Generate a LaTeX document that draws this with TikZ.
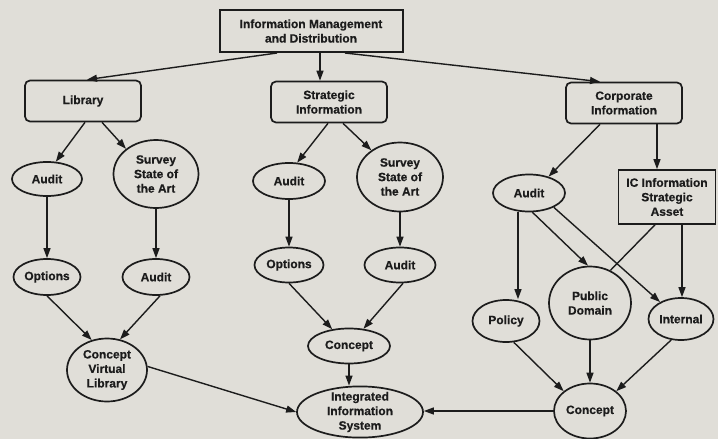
\documentclass[tikz,border=0pt]{standalone}
\usepackage{fontspec}
\setmainfont{Liberation Sans}
\newfontfamily\chartfont[BoldFeatures={FakeBold=0.5}]{Liberation Sans}
\usetikzlibrary{arrows.meta,shapes.geometric}
\definecolor{paper}{RGB}{224,222,216}
\definecolor{ink}{RGB}{28,28,28}
\tikzset{
	chartnode/.style={draw=ink, line width=1.7pt, text=ink, align=center, inner sep=0pt,
		font=\chartfont\bfseries\fontsize{12}{14.5}\selectfont},
	sqbox/.style={chartnode, rectangle},
	rbox/.style={chartnode, rectangle, rounded corners=5pt, minimum width=116pt, minimum height=41pt},
	oval/.style={chartnode, ellipse},
	flow/.style={draw=ink, line width=1.4pt, -{Triangle[length=10pt,width=7pt]}},
	plainflow/.style={draw=ink, line width=1.4pt}
}

\begin{document}
\begin{tikzpicture}[x=1pt,y=-1pt]
			%%%%% START %%%%%
			
			\fill[paper] (0,0) rectangle (718,439);
			\useasboundingbox (0,0) rectangle (718,439);
			
			\node[sqbox, line width=2pt, minimum width=183pt, minimum height=42pt] (top) at (311,31) {Information Management\\and Distribution};
			
			\node[rbox] (lib) at (83,101) {Library};
			\node[rbox] (strat) at (329,102) {Strategic\\Information};
			\node[rbox] (corp) at (624,103) {Corporate\\Information};
			
			% library branch
			\node[oval, minimum width=70pt, minimum height=34pt] (libAudit) at (47,179) {Audit};
			\node[oval, minimum width=85pt, minimum height=68pt] (libSurvey) at (156,174) {Survey\\State of\\the Art};
			\node[oval, minimum width=67pt, minimum height=36pt] (libOptions) at (47,277) {Options};
			\node[oval, minimum width=67pt, minimum height=36pt] (libAudit2) at (156,277) {Audit};
			\node[oval, minimum width=80pt, minimum height=63pt] (libConcept) at (107,370) {Concept\\Virtual\\Library};
			
			% strategic branch
			\node[oval, minimum width=72pt, minimum height=36pt] (stratAudit) at (289,181) {Audit};
			\node[oval, minimum width=86pt, minimum height=69pt] (stratSurvey) at (400,177) {Survey\\State of\\the Art};
			\node[oval, minimum width=69pt, minimum height=35pt] (stratOptions) at (289,265) {Options};
			\node[oval, minimum width=71pt, minimum height=35pt] (stratAudit2) at (400,265) {Audit};
			\node[oval, minimum width=82pt, minimum height=35pt] (stratConcept) at (349,346) {Concept};
			\node[oval, minimum width=126pt, minimum height=51pt, inner ysep=-2pt] (iis) at (360,412) {Integrated\\Information\\System};
			
			% corporate branch
			\node[oval, minimum width=72pt, minimum height=37pt] (corpAudit) at (529,193) {Audit};
			\node[sqbox, minimum width=97pt, minimum height=54pt] (icAsset) at (667,197) {IC Information\\Strategic\\Asset};
			\node[oval, minimum width=67pt, minimum height=42pt] (policy) at (506,321) {Policy};
			\node[oval, minimum width=82pt, minimum height=73pt] (pubDomain) at (590,303) {Public\\Domain};
			\node[oval, minimum width=65pt, minimum height=42pt] (internal) at (681,319) {Internal};
			\node[oval, minimum width=72pt, minimum height=55pt] (corpConcept) at (590,411) {Concept};
			
			% top level
			\draw[flow] ([xshift=-34pt]top.south) -- ([xshift=4pt]lib.north);
			\draw[flow] ([xshift=9pt]top.south) -- ([xshift=9pt]top.south |- strat.north);
			\draw[flow] ([xshift=34pt]top.south) -- ([xshift=-24pt]corp.north);
			
			\draw[flow] ([xshift=2pt]lib.south) -- (libAudit.63);
			\draw[flow] ([xshift=19pt]lib.south) -- (libSurvey.140);
			\draw[flow] (libAudit) -- (libOptions);
			\draw[flow] (libSurvey) -- (libAudit2);
			\draw[flow] (libOptions.south) -- (libConcept.117);
			\draw[flow] ([xshift=4pt]libAudit2.south) -- (libConcept.67);
			\draw[flow] (libConcept.5) -- (iis.west);
			
			\draw[flow] ([xshift=-1pt]strat.south) -- (stratAudit.66);
			\draw[flow] ([xshift=14pt]strat.south) -- (stratSurvey.137);
			\draw[flow] (stratAudit) -- (stratOptions);
			\draw[flow] (stratSurvey) -- (stratAudit2);
			\draw[flow] (stratOptions.south) -- (stratConcept.135);
			\draw[flow] ([xshift=3pt]stratAudit2.south) -- (stratConcept.50);
			\draw[flow] (stratConcept.south) -- (stratConcept.south |- iis.north);
			
			\draw[flow] ([xshift=-24pt]corp.south) -- (corpAudit.40);
			\draw[flow] ([xshift=33pt]corp.south) -- ([xshift=33pt]corp.south |- icAsset.north);
			\draw[flow] ([xshift=-11pt]corpAudit.south) -- ([xshift=-11pt]corpAudit.south |- policy.north);
			\draw[flow] (corpAudit.-80) -- (pubDomain.93);
			\draw[flow] (corpAudit.-30) -- (internal.141);
			\draw[plainflow] ([xshift=-12pt]icAsset.south) -- (pubDomain.58);
			\draw[flow] ([xshift=15pt]icAsset.south) -- ([xshift=15pt]icAsset.south |- internal.north);
			\draw[flow] (policy.-70) -- (corpConcept.143);
			\draw[flow] (pubDomain) -- (corpConcept);
			\draw[flow] (internal.-115) -- (corpConcept.37);
			\draw[flow] (corpConcept.west) -- (corpConcept.west -| iis.east);
			
			%%%%% END %%%%%
\end{tikzpicture}
\end{document}
